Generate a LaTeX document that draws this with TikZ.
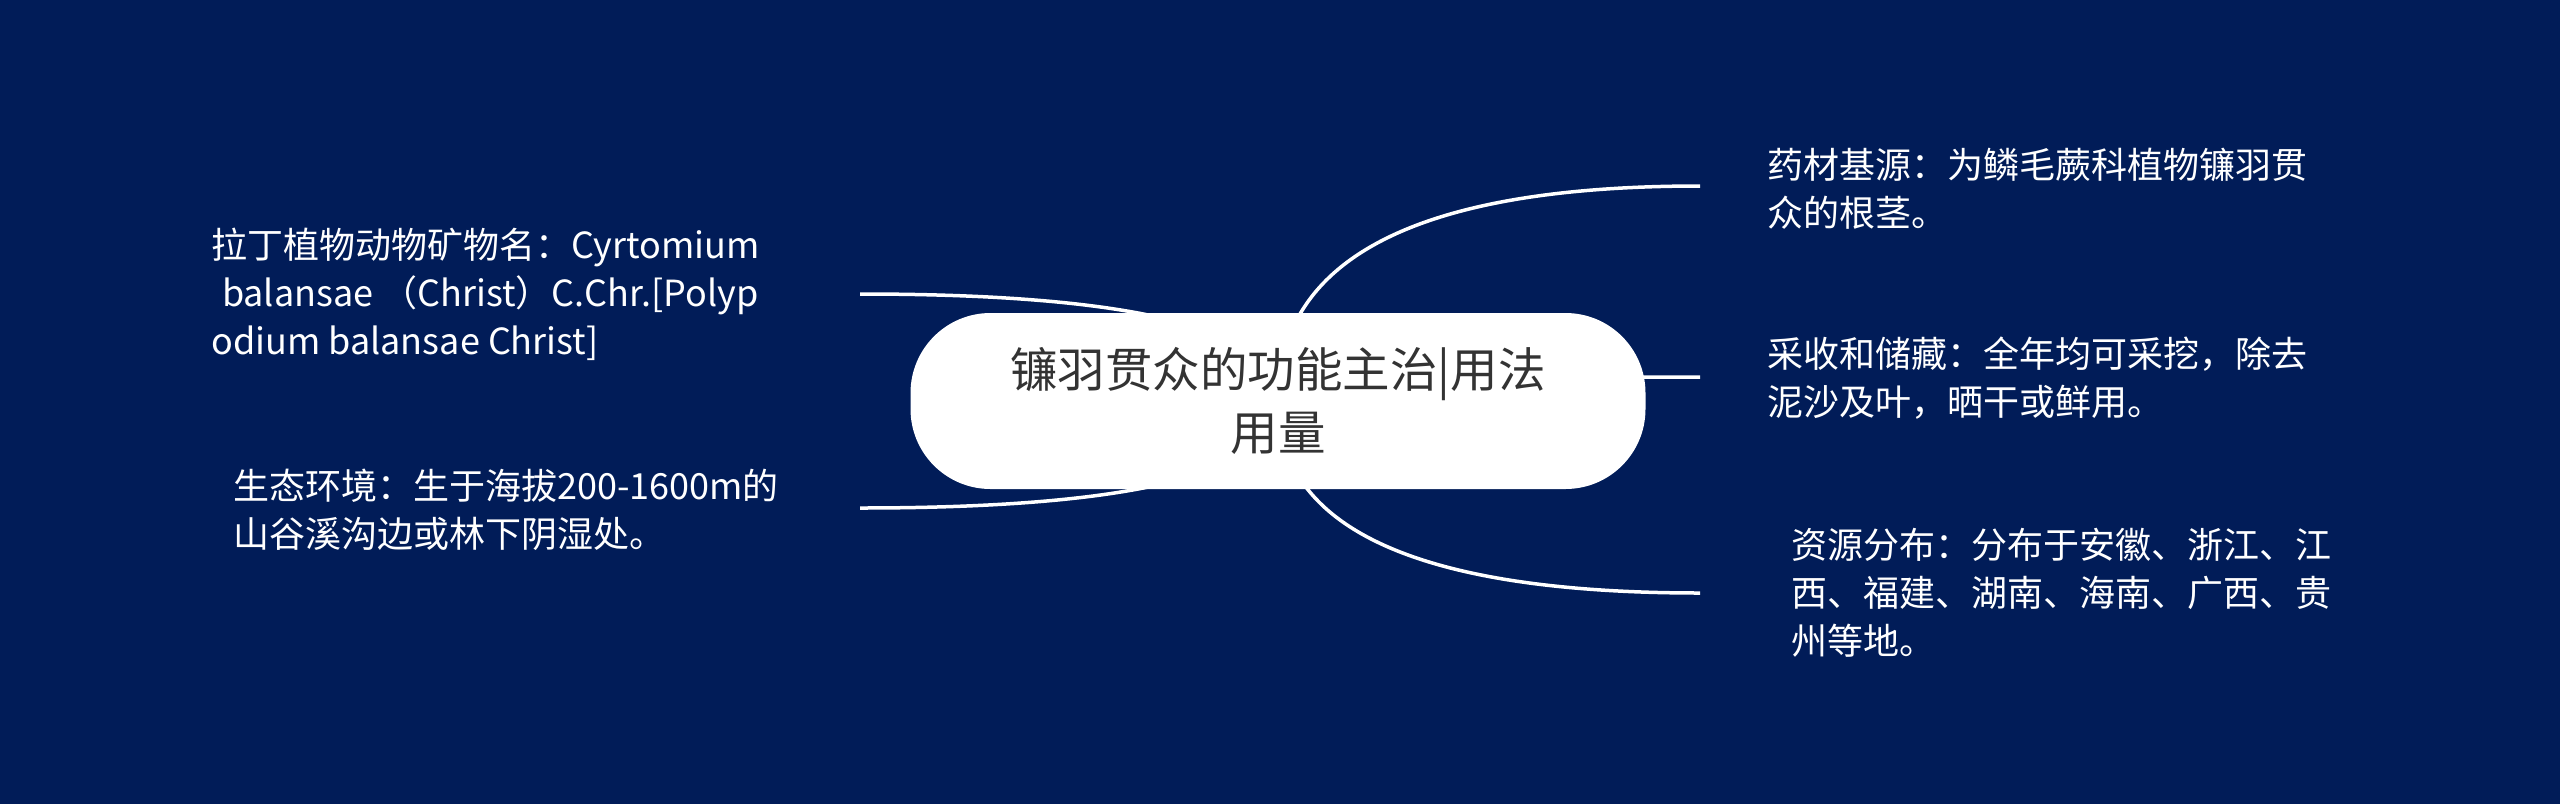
\documentclass[tikz,border=0pt]{standalone}
\usepackage{fontspec}
\newfontfamily\cjk{Noto Sans CJK SC}
\usetikzlibrary{calc,backgrounds}

\definecolor{navy}{RGB}{1,28,88}
\definecolor{rootgray}{RGB}{51,51,51}

\tikzset{
	leaf/.style={anchor=west, inner sep=0, align=left, text=white, font=\cjk\fontsize{36}{48}\selectfont},
	root/.style={fill=white, rounded corners=80pt, minimum width=735pt, minimum height=176pt, inner sep=0, align=center, text=rootgray, font=\cjk\fontsize{47.5}{63}\selectfont},
	branch/.style={draw=white, line width=3.5pt},
}
\newcommand{\twig}[2]{\draw[branch] (#1) .. controls ($(#1)!2/3!(#1 |- #2)$) and ($(#2)!2/3!(#1 |- #2)$) .. (#2);}

\begin{document}
\begin{tikzpicture}[x=1pt, y=-1pt]
	\node[root] (root) at (1278,401) {镰羽贯众的功能主治|用法\\用量};

	\node[leaf] (latin) at (211,294) {拉丁植物动物矿物名：Cyrtomium\\\hspace{.3em}balansae （Christ）C.Chr.[Polyp\\odium balansae Christ]};
	\node[leaf] (habitat) at (233,510) {生态环境：生于海拔200-1600m的\\山谷溪沟边或林下阴湿处。};
	\node[leaf] (source) at (1767,189) {药材基源：为鳞毛蕨科植物镰羽贯\\众的根茎。};
	\node[leaf] (harvest) at (1767,378) {采收和储藏：全年均可采挖，除去\\泥沙及叶，晒干或鲜用。};
	\node[leaf] (range) at (1791,593) {资源分布：分布于安徽、浙江、江\\西、福建、湖南、海南、广西、贵\\州等地。};

	\coordinate (latin-end) at (860,294);
	\coordinate (habitat-end) at (860,508);
	\coordinate (source-end) at (1700,186);
	\coordinate (harvest-end) at (1700,377);
	\coordinate (range-end) at (1700,593);

	\begin{scope}[on background layer]
		\fill[navy] (0,0) rectangle (2560,804);
		\twig{root.center}{latin-end}
		\twig{root.center}{habitat-end}
		\twig{root.center}{source-end}
		\twig{root.center}{harvest-end}
		\twig{root.center}{range-end}
	\end{scope}
\end{tikzpicture}
\end{document}
